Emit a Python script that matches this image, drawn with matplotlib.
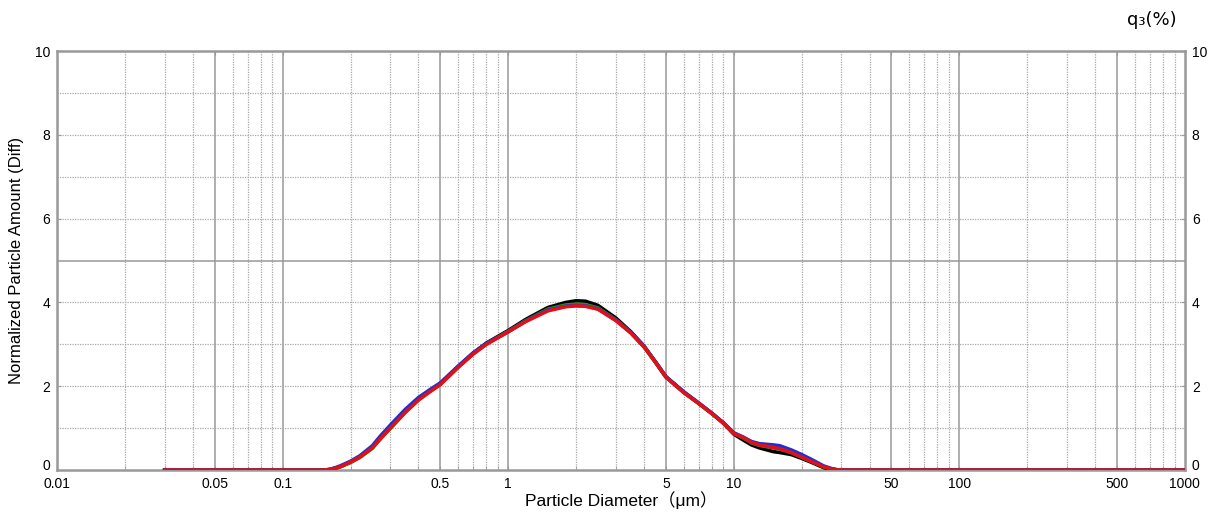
import matplotlib.pyplot as plt
from matplotlib.ticker import FixedLocator, NullFormatter

# particle diameter (um) and q3 (%), four repeat runs
diameter = [0.03, 0.1, 0.15, 0.16, 0.17, 0.18, 0.2, 0.22, 0.25, 0.27, 0.3, 0.35,
            0.4, 0.45, 0.5, 0.6, 0.7, 0.8, 1.0, 1.2, 1.5, 1.8, 2.0, 2.2, 2.5,
            3.0, 3.5, 4.0, 4.5, 5.0, 6.0, 7.0, 8.0, 9.0, 10.0, 11.0, 12.0, 13.0,
            15.0, 16.0, 18.0, 20.0, 22.0, 25.0, 27.0, 29.0, 30.0, 100.0, 1000.0]
run_black = [0, 0, 0, 0.01, 0.04, 0.08, 0.19, 0.32, 0.54, 0.76, 1.02, 1.41,
             1.70, 1.90, 2.06, 2.47, 2.79, 3.03, 3.33, 3.60, 3.88, 4.00, 4.04, 4.03,
             3.93, 3.63, 3.30, 2.96, 2.58, 2.23, 1.86, 1.59, 1.35, 1.12, 0.86,
             0.72, 0.60, 0.53, 0.44, 0.42, 0.37, 0.28, 0.19, 0.06, 0.02, 0.0,
             0, 0, 0]
run_green = [0, 0, 0, 0.01, 0.04, 0.08, 0.18, 0.30, 0.52, 0.73, 0.99, 1.38,
             1.68, 1.88, 2.05, 2.46, 2.78, 3.01, 3.31, 3.57, 3.84, 3.94, 3.96, 3.95,
             3.87, 3.59, 3.28, 2.95, 2.57, 2.22, 1.86, 1.59, 1.35, 1.12, 0.88,
             0.77, 0.65, 0.59, 0.53, 0.50, 0.42, 0.31, 0.21, 0.08, 0.03, 0.0,
             0, 0, 0]
run_blue = [0, 0, 0, 0.01, 0.05, 0.10, 0.21, 0.34, 0.58, 0.80, 1.07, 1.45,
            1.73, 1.92, 2.08, 2.48, 2.80, 3.02, 3.30, 3.56, 3.82, 3.91, 3.93, 3.92,
            3.85, 3.58, 3.28, 2.95, 2.58, 2.23, 1.87, 1.60, 1.36, 1.13, 0.89,
            0.79, 0.68, 0.63, 0.60, 0.58, 0.48, 0.37, 0.26, 0.10, 0.04, 0.0,
            0, 0, 0]
run_red = [0, 0, 0, 0.01, 0.04, 0.08, 0.19, 0.31, 0.53, 0.74, 1.00, 1.38,
           1.67, 1.87, 2.04, 2.45, 2.77, 3.00, 3.30, 3.55, 3.80, 3.90, 3.92, 3.91,
           3.84, 3.57, 3.27, 2.94, 2.57, 2.22, 1.85, 1.59, 1.35, 1.12, 0.87,
           0.78, 0.66, 0.60, 0.54, 0.51, 0.42, 0.31, 0.21, 0.08, 0.03, 0.005,
           0, 0, 0]

x_ticks = [0.01, 0.05, 0.1, 0.5, 1, 5, 10, 50, 100, 500, 1000]
x_tick_labels = ["0.01", "0.05", "0.1", "0.5", "1", "5", "10", "50", "100", "500", "1000"]
y_ticks = [0, 2, 4, 6, 8, 10]

plt.rcParams["font.family"] = ["Liberation Sans", "DejaVu Sans", "Noto Sans CJK JP"]

fig = plt.figure(figsize=(12.14, 5.16), dpi=100)
ax = fig.add_axes([0.047, 0.089, 0.929, 0.812])

ax.set_xscale("log")
ax.set_xlim(0.01, 1000)
ax.set_ylim(0, 10)

# grid: dotted for minor steps, solid at 1 and 5 per decade, solid at y=5
minor_x = [m * 10.0 ** e for e in range(-2, 3) for m in (2, 3, 4, 6, 7, 8, 9)]
solid_x = [m * 10.0 ** e for e in range(-2, 3) for m in (1, 5)][1:]
for v in minor_x:
    ax.axvline(v, color="#a8a8a8", lw=0.9, ls=(0, (1, 1)), zorder=1)
for v in solid_x:
    ax.axvline(v, color="#999999", lw=1.1, zorder=1)
for v in range(1, 10):
    if v == 5:
        ax.axhline(v, color="#999999", lw=1.1, zorder=1)
    else:
        ax.axhline(v, color="#a8a8a8", lw=0.9, ls=(0, (1, 1)), zorder=1)

for series, col in [(run_black, "black"), (run_green, "#1a9a1a"),
                    (run_blue, "#2030d0"), (run_red, "#e0101a")]:
    ax.plot(diameter, series, color=col, lw=2.6, zorder=3,
            solid_joinstyle="round")

ax.xaxis.set_major_locator(FixedLocator(x_ticks))
ax.set_xticklabels(x_tick_labels, fontsize=10)
ax.xaxis.set_minor_locator(FixedLocator(minor_x))
ax.xaxis.set_minor_formatter(NullFormatter())
ax.set_yticks(y_ticks)
ax.set_yticklabels([str(v) for v in y_ticks], fontsize=10)
ax.tick_params(axis="both", which="both", direction="in", color="#999999",
               length=3)
ax.tick_params(axis="x", pad=5, top=True)
ax.tick_params(axis="y", pad=5, right=True, labelright=True)

# the two "0" labels sit just above the bottom spine, as in the reference
ax.yaxis.get_major_ticks()[0].label1.set_verticalalignment("baseline")
ax.yaxis.get_major_ticks()[0].label2.set_verticalalignment("baseline")

for s in ax.spines.values():
    s.set_color("#999999")
    s.set_linewidth(1.8)

ax.set_xlabel("Particle Diameter（μm）", fontsize=12.5, labelpad=0)
ax.set_ylabel("Normalized Particle Amount (Diff)", fontsize=12, labelpad=8)
fig.text(0.949, 0.962, "q₃(%)", fontsize=13, ha="center", va="center",
         family=["DejaVu Sans"])

fig.savefig("out.png", dpi=100)
